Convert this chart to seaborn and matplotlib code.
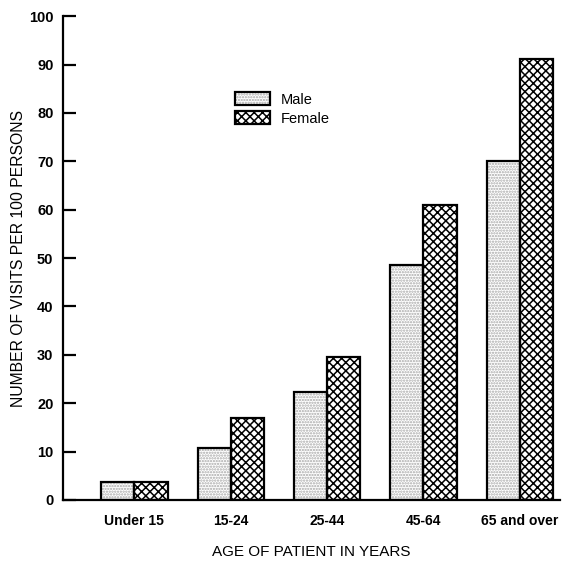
import pandas as pd
import matplotlib
matplotlib.use("Agg")
import matplotlib.pyplot as plt
import seaborn as sns
from matplotlib.patches import Patch, Rectangle

# --- DATA ---
age_groups = ["Under 15", "15-24", "25-44", "45-64", "65 and over"]
male_visits = [3.8, 10.8, 22.4, 48.6, 70.0]
female_visits = [3.8, 16.9, 29.5, 61.0, 91.2]
y_ticks = list(range(0, 101, 10))

df = pd.DataFrame({
    "Age": age_groups * 2,
    "Sex": ["Male"] * len(age_groups) + ["Female"] * len(age_groups),
    "Visits": male_visits + female_visits,
})

sns.set_style("ticks")
plt.rcParams["font.family"] = ["Liberation Sans", "DejaVu Sans"]
plt.rcParams["hatch.linewidth"] = 1.1
for key in ["text.color", "axes.labelcolor", "xtick.color", "ytick.color", "axes.edgecolor"]:
    plt.rcParams[key] = "black"

fig = plt.figure(figsize=(5.74, 5.78), dpi=100)
ax = fig.add_axes([0.11, 0.135, 0.866, 0.837])

sns.barplot(data=df, x="Age", y="Visits", hue="Sex", order=age_groups,
            hue_order=["Male", "Female"], width=0.69, gap=0,
            palette=["white", "white"], legend=False, ax=ax)

# male bars get a light stipple, female bars a black cross-hatch
n = len(age_groups)
bars = list(ax.patches)
for i, p in enumerate(bars):
    if i < n:
        p.set_facecolor("white")
        p.set_hatch("......")
        p.set_edgecolor("#a8a8a8")
    else:
        p.set_facecolor("white")
        p.set_hatch("xxxx")
        p.set_edgecolor("black")
    p.set_linewidth(0)
    ax.add_patch(Rectangle(p.get_xy(), p.get_width(), p.get_height(),
                           fill=False, edgecolor="black", linewidth=1.6, zorder=3))

ax.set_xlim(-0.74, 4.42)
ax.set_ylim(0, 100)
ax.set_yticks(y_ticks)
ax.tick_params(axis="y", direction="in", length=9, width=1.6, labelsize=10.5, pad=7)
ax.tick_params(axis="x", length=0, labelsize=10, pad=10)
for lab in ax.get_yticklabels() + ax.get_xticklabels():
    lab.set_fontweight("bold")

ax.spines["top"].set_visible(False)
ax.spines["right"].set_visible(False)
ax.spines["left"].set_linewidth(1.6)
ax.spines["bottom"].set_linewidth(1.6)

ax.set_xlabel("AGE OF PATIENT IN YEARS", fontsize=11, labelpad=12)
ax.set_ylabel("NUMBER OF VISITS PER 100 PERSONS", fontsize=11.3, labelpad=2)

male_handle = (Patch(facecolor="white", hatch="......", edgecolor="#a8a8a8", linewidth=0),
               Patch(fill=False, edgecolor="black", linewidth=1.6))
female_handle = (Patch(facecolor="white", hatch="xxxx", edgecolor="black", linewidth=0),
                 Patch(fill=False, edgecolor="black", linewidth=1.6))
ax.legend([male_handle, female_handle], ["Male", "Female"],
          loc="upper left", bbox_to_anchor=(0.32, 0.87), frameon=False,
          fontsize=10.5, handlelength=2.4, handleheight=1.0, labelspacing=0.3,
          handletextpad=0.7)

fig.savefig("out.png", dpi=100)
